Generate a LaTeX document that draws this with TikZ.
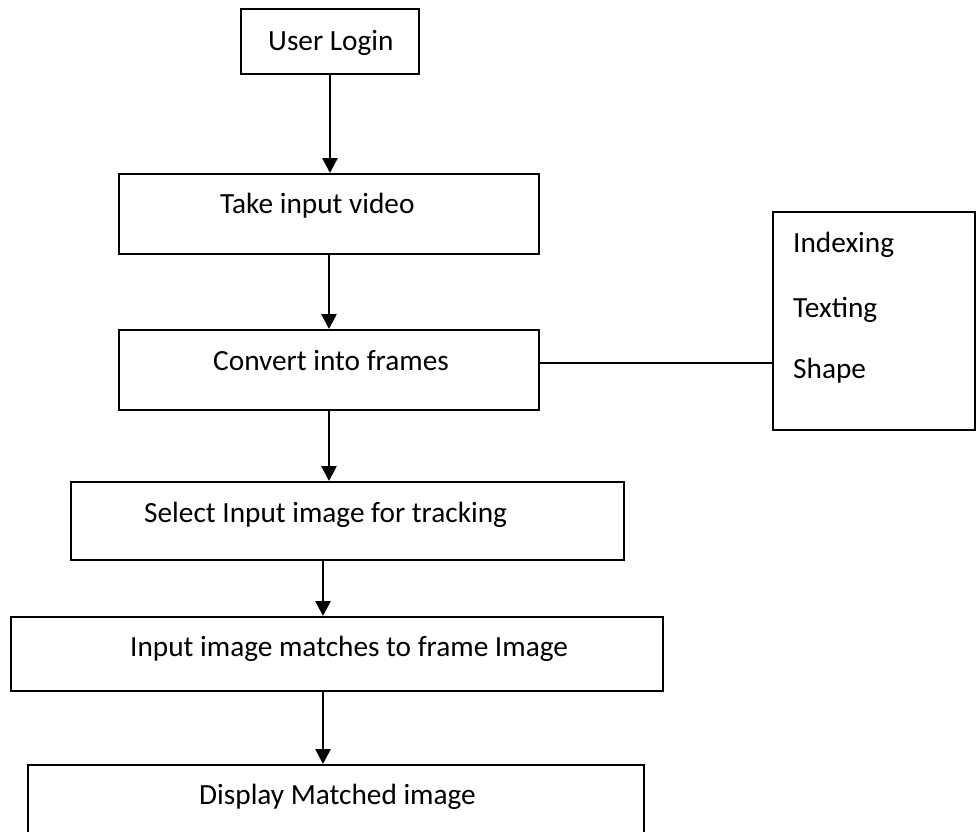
\documentclass[tikz,border=0pt]{standalone}
\usepackage{fontspec}
\setmainfont{Carlito}
\usetikzlibrary{arrows.meta}
\begin{document}
\begin{tikzpicture}[x=1pt,y=1pt,
  box/.style={draw=black, line width=2pt, inner sep=0pt, fill=white},
  lbl/.style={anchor=base west, inner sep=0pt, font=\fontsize{29.3}{34}\selectfont},
  arr/.style={line width=2.6pt, -{Triangle[length=15pt,width=15pt]}},
  conn/.style={line width=2.4pt}]
\useasboundingbox (0,0) rectangle (976,-831);
\clip (0,0) rectangle (976,-831);
% boxes
\node[box, minimum width=178pt, minimum height=65pt] (login) at (330,-41.5) {};
\node[box, minimum width=420pt, minimum height=80pt] (take) at (329,-214) {};
\node[box, minimum width=420pt, minimum height=80pt] (conv) at (329,-370) {};
\node[box, minimum width=202pt, minimum height=218pt] (side) at (874,-321) {};
\node[box, minimum width=553pt, minimum height=78pt] (sel) at (347.5,-521) {};
\node[box, minimum width=652pt, minimum height=74pt] (match) at (337,-654) {};
\node[box, minimum width=616pt, minimum height=85pt] (disp) at (336,-807.5) {};
% texts
\node[lbl] (tlogin) at (268,-50) {User Login};
\node[lbl] (ttake) at (220,-213) {Take input video};
\node[lbl] (tconv) at (213,-370) {Convert into frames};
\node[lbl] (tsel) at (144,-522) {Select Input image for tracking};
\node[lbl] (tmatch) at (130,-656) {Input image matches to frame Image};
\node[lbl] (tdisp) at (199,-804) {Display Matched image};
\node[lbl] (tidx) at (793,-252) {Indexing};
\node[lbl] (ttext) at (793,-317) {Texting};
\node[lbl] (tshape) at (793,-378) {Shape};
% connectors
\coordinate (ax) at (323,0);
\coordinate (ly) at (0,-363);
\draw[arr] (login.south) -- (login.south |- take.north);
\draw[arr] (take.south) -- (conv.north);
\draw[arr] (conv.south) -- (conv.south |- sel.north);
\draw[arr] (sel.south -| ax) -- (match.north -| ax);
\draw[arr] (match.south -| ax) -- (disp.north -| ax);
\draw[conn] (conv.east |- ly) -- (side.west |- ly);
\end{tikzpicture}
\end{document}
